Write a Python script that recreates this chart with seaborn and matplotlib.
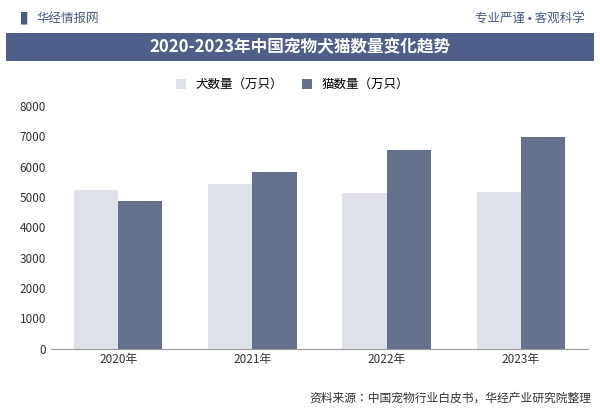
import pandas as pd
import matplotlib.pyplot as plt
import seaborn as sns

plt.rcParams['font.family'] = ['Noto Sans CJK SC', 'Noto Sans CJK JP', 'Noto Sans CJK TC',
                               'Noto Sans CJK KR', 'DejaVu Sans']

# --- data ---
YEARS = ["2020年", "2021年", "2022年", "2023年"]
DOGS = [5222, 5429, 5119, 5175]
CATS = [4862, 5806, 6536, 6980]
SERIES = ["犬数量（万只）", "猫数量（万只）"]

df = pd.DataFrame({
    "year": YEARS * 2,
    "value": DOGS + CATS,
    "kind": [SERIES[0]] * 4 + [SERIES[1]] * 4,
})

fig = plt.figure(figsize=(6, 4.15), dpi=100)
fig.patch.set_facecolor("white")

# header
fig.text(0.06, 0.955, "华经情报网", fontsize=9, color="#4a5a86", va="center")
fig.text(0.035, 0.955, "▌", fontsize=9, color="#4a5a86", va="center")
fig.text(0.975, 0.955, "专业严谨 • 客观科学", fontsize=9, color="#4a5a86", va="center", ha="right")
bar = fig.add_axes([0.01, 0.852, 0.98, 0.068])
bar.set_facecolor("#4f5f8a")
bar.set_xticks([]); bar.set_yticks([])
for s in bar.spines.values():
    s.set_visible(False)
bar.text(0.5, 0.5, "2020-2023年中国宠物犬猫数量变化趋势", color="white", fontsize=12,
         fontweight="bold", ha="center", va="center", transform=bar.transAxes)

ax = fig.add_axes([0.085, 0.16, 0.895, 0.585])
sns.barplot(data=df, x="year", y="value", hue="kind", palette=["#dde1ea", "#5f6e94"],
            width=0.66, gap=0, ax=ax)
ax.set_ylim(0, 8000)
ax.set_yticks(range(0, 8001, 1000))
ax.set_xlabel("")
ax.set_ylabel("")
ax.tick_params(labelsize=8.5, colors="#333333", length=0)
for s in ["top", "right", "left"]:
    ax.spines[s].set_visible(False)
ax.spines["bottom"].set_color("#999999")
ax.legend(loc="upper center", bbox_to_anchor=(0.45, 1.16), ncol=2, frameon=False,
          fontsize=9, handlelength=0.8, handleheight=0.8, columnspacing=1.5)

fig.text(0.985, 0.04, "资料来源：中国宠物行业白皮书，华经产业研究院整理", fontsize=8.5,
         color="#333333", ha="right", va="center")

fig.savefig("out.png", dpi=100)
